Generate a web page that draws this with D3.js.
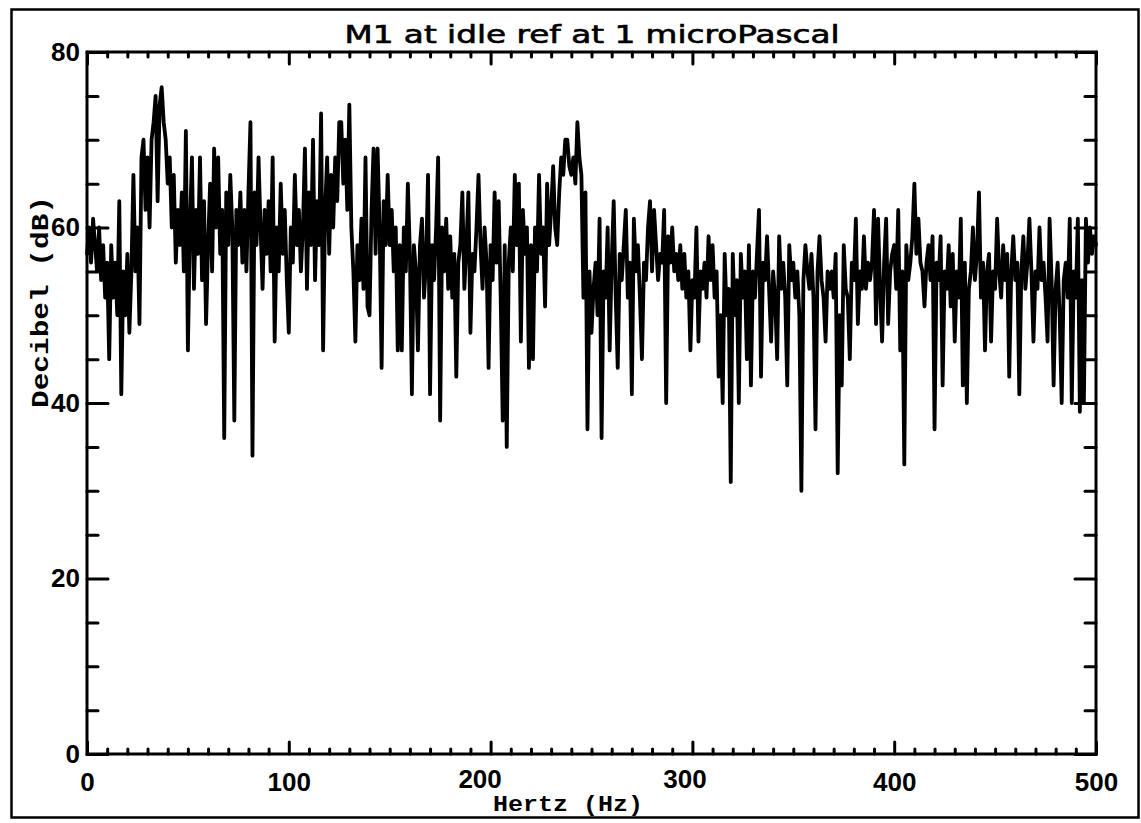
<!DOCTYPE html>
<html><head><meta charset="utf-8">
<script src="https://cdn.jsdelivr.net/npm/d3@7"></script>
<style>
html,body{margin:0;padding:0;background:#fff;}
svg{display:block;}
</style></head><body>
<svg id="chart" width="1141" height="823"></svg>
<script>
// ---- chart texts ----
const chartTitle = "M1 at idle ref at 1 microPascal";
const xAxisTitle = "Hertz (Hz)";
const yAxisTitle = "Decibel (dB)";

// ---- axes ----
const xDomain = [0, 500];
const yDomain = [0, 80];
const xTickLabels = [0, 100, 200, 300, 400, 500];
const yTickLabels = [0, 20, 40, 60, 80];
const xMinorTicks = [10,20,30,40,50,60,70,80,90,110,120,130,140,150,160,170,180,190,210,220,230,240,250,260,270,280,290,310,320,330,340,350,360,370,380,390,410,420,430,440,450,460,470,480,490];
const yMinorTicks = [5,10,15,25,30,35,45,50,55,65,70,75];

// ---- series: level (dB) per 1 Hz bin, 0..500 Hz ----
const binWidthHz = 1;
const levelDb = [
 57,60,56,61,58,55,60,54,58,52,
 56,45,58,52,56,50,63,41,55,50,
 57,48,55,66,55,60,49,68,70,62,
 68,60,70,72,75,63,74,76,72,70,
 65,68,60,66,56,62,58,64,55,71,
 46,60,68,53,62,57,68,54,63,49,
 58,65,55,69,60,68,57,62,36,64,
 58,66,60,38,62,58,64,56,62,55,
 64,72,34,64,58,68,60,53,62,57,
 63,55,68,47,60,55,65,57,62,54,
 48,60,56,66,58,62,55,60,69,53,
 64,58,70,54,63,58,73,46,62,68,
 57,66,60,68,63,72,72,65,70,62,
 74,60,55,47,58,54,61,53,68,51,
 50,62,69,57,69,60,44,63,58,66,
 58,62,55,60,46,58,46,60,55,65,
 57,41,58,55,46,58,61,52,56,66,
 41,58,54,60,68,38,60,55,61,53,
 59,52,57,43,56,58,64,53,58,64,
 48,57,55,60,66,58,53,60,56,44,
 58,54,64,56,63,52,38,58,35,56,
 60,55,66,58,65,47,62,57,60,44,
 58,45,60,55,66,57,60,51,65,58,
 62,67,60,58,64,68,66,70,70,67,
 66,68,65,72,68,66,52,64,37,55,
 48,53,56,50,61,36,55,52,60,46,
 56,63,52,44,57,54,58,62,52,56,
 41,61,55,58,52,45,56,54,60,63,
 55,62,58,54,57,56,62,40,59,56,
 60,55,57,54,58,53,57,52,55,46,
 54,52,60,47,55,53,56,52,59,54,
 58,52,55,43,50,40,57,50,53,31,
 57,50,54,40,57,52,55,45,58,42,
 55,52,57,62,43,56,54,59,53,47,
 55,52,45,59,53,56,52,42,58,54,
 56,52,55,50,30,54,58,55,53,57,
 52,37,55,59,54,52,47,55,53,55,
 52,57,32,50,42,58,53,52,45,56,
 54,61,49,55,53,59,53,56,54,56,
 62,49,61,53,47,56,61,49,55,57,
 58,53,62,46,55,33,58,54,56,59,
 65,57,61,56,55,51,56,58,54,59,
 37,56,54,59,42,55,53,58,51,57,
 47,55,52,61,42,56,40,53,55,60,
 54,57,64,52,56,46,55,57,47,55,
 53,61,55,52,58,54,57,43,55,59,
 54,56,41,55,59,53,56,61,55,47,
 55,53,60,54,56,52,47,61,54,42,
 53,56,50,40,54,56,52,61,40,55,
 52,61,39,54,40,61,56,60,57,59,
 58
];

// ---- drawing ----
const svg = d3.select("#chart");
const plot = {left: 87, right: 1096, top: 52, bottom: 754};
const x = d3.scaleLinear().domain(xDomain).range([plot.left, plot.right]);
const y = d3.scaleLinear().domain(yDomain).range([plot.bottom, plot.top]);

svg.append("rect").attr("width", 1141).attr("height", 823).attr("fill", "#fff");

// outer frame
svg.append("rect")
  .attr("x", 11.5).attr("y", 9.5).attr("width", 1127).attr("height", 808)
  .attr("fill", "none").attr("stroke", "#000").attr("stroke-width", 2.5);

// data line
const line = d3.line()
  .x((d, i) => x(i * binWidthHz))
  .y(d => y(d));
svg.append("path")
  .datum(levelDb)
  .attr("d", line)
  .attr("fill", "none")
  .attr("stroke", "#000")
  .attr("stroke-width", 3.8)
  .attr("stroke-linejoin", "round")
  .attr("stroke-linecap", "round");

// axes helper
function styleAxis(g) {
  g.select(".domain").remove();
  g.selectAll(".tick line").attr("stroke", "#000").attr("stroke-width", 3).attr("stroke-linecap", "round");
}
const labelFont = "'Liberation Sans', Arial, sans-serif";
// small offsets seen on the scanned original for the 200 / 300 labels
const xLabelShift = {200: -11, 300: -8};

// bottom axis (ticks pointing up)
svg.append("g").attr("transform", `translate(0,${plot.bottom})`)
  .call(d3.axisBottom(x).tickValues(xMinorTicks).tickSize(-5).tickFormat(""))
  .call(styleAxis);
svg.append("g").attr("transform", `translate(0,${plot.bottom})`)
  .call(d3.axisBottom(x).tickValues(xTickLabels).tickSize(-12).tickPadding(25).tickFormat(d3.format("d")))
  .call(styleAxis)
  .call(g => g.selectAll("text").attr("font-family", labelFont).attr("font-weight", "bold")
    .attr("font-size", 26).attr("fill", "#000").attr("dy", "0.45em")
    .attr("dx", d => xLabelShift[d] || 0)
    .attr("y", d => xLabelShift[d] ? 22 : 25));

// top axis (ticks pointing down)
svg.append("g").attr("transform", `translate(0,${plot.top})`)
  .call(d3.axisTop(x).tickValues(xMinorTicks).tickSize(-5).tickFormat(""))
  .call(styleAxis);
svg.append("g").attr("transform", `translate(0,${plot.top})`)
  .call(d3.axisTop(x).tickValues(xTickLabels).tickSize(-12).tickFormat(""))
  .call(styleAxis);

// left axis (ticks pointing right)
svg.append("g").attr("transform", `translate(${plot.left},0)`)
  .call(d3.axisLeft(y).tickValues(yMinorTicks).tickSize(-11).tickFormat(""))
  .call(styleAxis);
svg.append("g").attr("transform", `translate(${plot.left},0)`)
  .call(d3.axisLeft(y).tickValues(yTickLabels).tickSize(-21).tickPadding(7).tickFormat(d3.format("d")))
  .call(styleAxis)
  .call(g => g.selectAll("text").attr("font-family", labelFont).attr("font-weight", "bold")
    .attr("font-size", 26).attr("fill", "#000"));

// right axis (ticks pointing left)
svg.append("g").attr("transform", `translate(${plot.right},0)`)
  .call(d3.axisRight(y).tickValues(yMinorTicks).tickSize(-11).tickFormat(""))
  .call(styleAxis);
svg.append("g").attr("transform", `translate(${plot.right},0)`)
  .call(d3.axisRight(y).tickValues(yTickLabels).tickSize(-21).tickFormat(""))
  .call(styleAxis);

// plot frame
svg.append("rect")
  .attr("x", plot.left).attr("y", plot.top)
  .attr("width", plot.right - plot.left).attr("height", plot.bottom - plot.top)
  .attr("fill", "none").attr("stroke", "#000").attr("stroke-width", 3);

// title
svg.append("text")
  .attr("x", 592).attr("y", 43)
  .attr("text-anchor", "middle")
  .attr("font-family", "'DejaVu Sans', sans-serif")
  .attr("font-size", 24)
  .attr("stroke", "#000").attr("stroke-width", 0.6)
  .attr("textLength", 495).attr("lengthAdjust", "spacingAndGlyphs")
  .text(chartTitle);

// x axis title
svg.append("text")
  .attr("x", 568).attr("y", 811)
  .attr("text-anchor", "middle")
  .attr("font-family", "'Liberation Mono', 'DejaVu Sans Mono', monospace")
  .attr("font-weight", "bold")
  .attr("font-size", 22)
  .attr("textLength", 150).attr("lengthAdjust", "spacingAndGlyphs")
  .text(xAxisTitle);

// y axis title
svg.append("text")
  .attr("transform", "translate(48,302) rotate(-90)")
  .attr("text-anchor", "middle")
  .attr("font-family", "'Liberation Mono', 'DejaVu Sans Mono', monospace")
  .attr("font-weight", "bold")
  .attr("font-size", 24)
  .attr("textLength", 212).attr("lengthAdjust", "spacingAndGlyphs")
  .text(yAxisTitle);
</script>
</body></html>
